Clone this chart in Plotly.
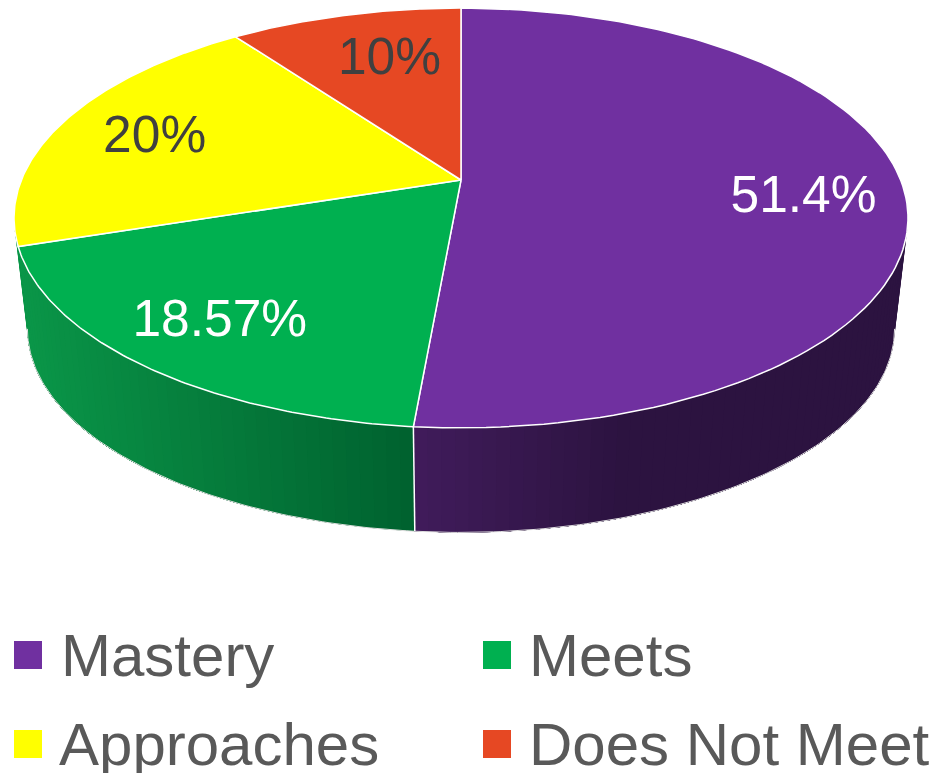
import numpy as np
import plotly.graph_objects as go

# --- data ---
categories = ["Mastery", "Meets", "Approaches", "Does Not Meet"]
values = [51.4, 18.57, 20, 10]
colors = ["#7030A0", "#00B050", "#FFFF00", "#E64823"]
label_colors = ["#FFFFFF", "#FFFFFF", "#404040", "#404040"]

# --- styling / projection of the tilted disc ---
W, H = 939, 773
CX, CY = 461, 180
A, B, K = 439.6, 203.0, 0.181
LOW_S, LOW_D = 0.97, 112
label_r = [0.77, 0.757, 0.773, 0.75]
label_turn = [1.5, 0, 0, 4]
label_dx = [1.5, -9, 3.5, -1]
label_dy = [8, 8, 6, 12]
wall_stops = {
    "Mastery": ([414, 630], [(0x41, 0x1C, 0x5C), (0x2C, 0x13, 0x40)]),
    "Meets": ([20, 414], [(0x0A, 0x96, 0x48), (0x00, 0x62, 0x2F)]),
}
TANGENT = np.degrees(np.arccos(-K))  # where the disc's outline turns away from the viewer


def project(theta_deg, r=1.0, lower=False):
    t = np.radians(theta_deg)
    X, Y = r * np.sin(t), r * np.cos(t)
    w = 1 + K * Y
    x, y = A * X / w, -B * Y / w
    if lower:
        return CX + LOW_S * x, CY + LOW_D + LOW_S * y
    return CX + x, CY + y


total = sum(values)
edges = np.concatenate([[0], np.cumsum(values) / total * 360])
fig = go.Figure()


def poly(xs, ys, fill, line=None, width=0.0):
    fig.add_trace(go.Scatter(
        x=xs, y=ys, mode="lines", fill="toself", fillcolor=fill,
        line=dict(color=line or fill, width=width),
        hoverinfo="skip", showlegend=False))


# side wall: each strip runs to the far end of its slice and the next one paints
# over it, so the shading has no seams
wall_limits = {"Mastery": (TANGENT, edges[1]), "Meets": (edges[1], 360 - TANGENT)}
for name, (a0, a1) in wall_limits.items():
    (x0, x1), (c0, c1) = wall_stops[name]
    steps = np.linspace(a0, a1, int((a1 - a0) / 1.5) + 2)
    for s0 in steps[:-1]:
        seg = np.linspace(s0, a1, 60)
        tx, ty = project(seg)
        bx, by = project(seg, lower=True)
        px, _ = project(np.array([s0]))
        f = np.clip((px[0] - x0) / (x1 - x0), 0, 1)
        rgb = [round(c0[j] + (c1[j] - c0[j]) * f) for j in range(3)]
        poly(np.r_[tx, bx[::-1]], np.r_[ty, by[::-1]], f"rgb({rgb[0]},{rgb[1]},{rgb[2]})")

# outline of the wall's lower edge, and the seam between the two visible slices
low = np.linspace(TANGENT, 360 - TANGENT, 200)
lx, ly = project(low, lower=True)
fig.add_trace(go.Scatter(x=lx, y=ly, mode="lines",
                         line=dict(color="#E0E0E0", width=1),
                         hoverinfo="skip", showlegend=False))
seam = edges[1]
sx0, sy0 = project(seam)
sx1, sy1 = project(seam, lower=True)
fig.add_trace(go.Scatter(x=[sx0, sx1], y=[sy0, sy1], mode="lines",
                         line=dict(color="#FFFFFF", width=1.5),
                         hoverinfo="skip", showlegend=False))

# top face
for i in range(len(values)):
    arc = np.linspace(edges[i], edges[i + 1], 120)
    ax, ay = project(arc)
    poly(np.r_[CX, ax, CX], np.r_[CY, ay, CY], colors[i], "#FFFFFF", 1.5)

# data labels
for i, v in enumerate(values):
    mid = (edges[i] + edges[i + 1]) / 2 + label_turn[i]
    lxp, lyp = project(mid, label_r[i])
    fig.add_trace(go.Scatter(
        x=[lxp + label_dx[i]], y=[lyp + label_dy[i]], mode="text", text=[f"{v:g}%"],
        textposition="middle center",
        textfont=dict(family="Liberation Sans", size=51.5, color=label_colors[i]),
        hoverinfo="skip", showlegend=False))

# legend (two rows, two columns)
legend_x = [28, 497, 28, 497]
legend_y = [655, 655, 744, 744]
legend_text_x = [61, 529, 59, 529]
LEGEND_TEXT_DY = 6
for i, name in enumerate(categories):
    fig.add_trace(go.Scatter(
        x=[legend_x[i]], y=[legend_y[i]], mode="markers",
        marker=dict(symbol="square", size=28, color=colors[i], line=dict(width=0)),
        hoverinfo="skip", showlegend=False))
    fig.add_trace(go.Scatter(
        x=[legend_text_x[i]], y=[legend_y[i] + LEGEND_TEXT_DY], mode="text", text=[name],
        textposition="middle right",
        textfont=dict(family="Liberation Sans", size=60, color="#595959"),
        hoverinfo="skip", showlegend=False))

fig.update_layout(
    width=W, height=H, autosize=False,
    margin=dict(l=0, r=0, t=0, b=0),
    paper_bgcolor="#FFFFFF", plot_bgcolor="#FFFFFF",
    xaxis=dict(range=[0, W], visible=False, fixedrange=True),
    yaxis=dict(range=[H, 0], visible=False, fixedrange=True),
)
fig.write_html("out.html", config={"displayModeBar": False},
               post_script="document.body.style.margin='0';")
